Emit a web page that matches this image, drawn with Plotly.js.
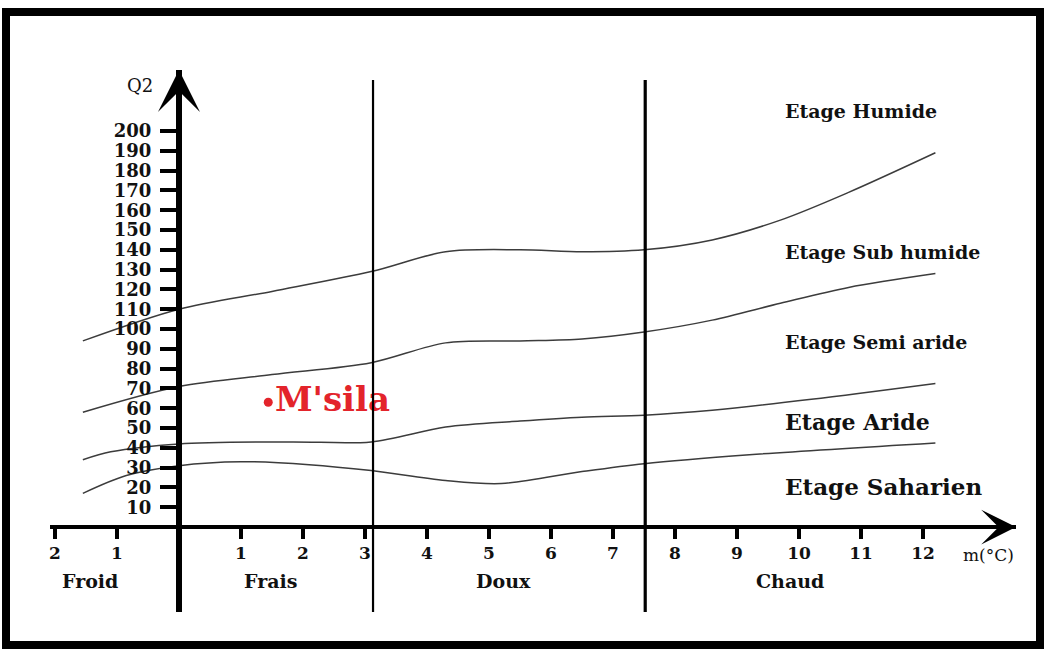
<!DOCTYPE html>
<html><head><meta charset="utf-8">
<script src="https://cdn.plot.ly/plotly-3.0.1.min.js"></script>
<style>html,body{margin:0;padding:0;background:#fff;overflow:hidden}</style>
</head><body>
<div id="chart" style="width:1046px;height:650px"></div>
<script>
// ---- data ----
const xTickVals = [-2, -1, 1, 2, 3, 4, 5, 6, 7, 8, 9, 10, 11, 12];
const xTickText = ['2', '1', '1', '2', '3', '4', '5', '6', '7', '8', '9', '10', '11', '12'];
const yTickVals = [10, 20, 30, 40, 50, 60, 70, 80, 90, 100, 110, 120, 130, 140, 150, 160, 170, 180, 190, 200];
const zoneBounds = [3.13, 7.52];
const zoneNames = ['Froid', 'Frais', 'Doux', 'Chaud'];
const etageNames = ['Etage Humide', 'Etage Sub humide', 'Etage Semi aride', 'Etage Aride', 'Etage Saharien'];

// boundary curves between étages (m in °C, Q2)
const humideM = [-1.55, 0, 1.5, 3.1, 4.3, 5.5, 6.5, 7.5, 8.6, 9.7, 10.8, 12.2];
const humideQ2 = [94, 110, 119, 129, 139, 140, 139, 140, 145, 155, 169, 189];
const subHumideM = [-1.55, 0, 1.5, 3.1, 4.3, 5.5, 6.5, 7.5, 8.6, 9.7, 10.8, 12.2];
const subHumideQ2 = [58, 71, 77, 83, 93, 94, 95, 98.5, 104.5, 113, 121, 128];
const semiAridM = [-1.55, -1.1, 0, 1.8, 3.1, 4.3, 5.5, 6.5, 7.5, 8.6, 10.2, 12.2];
const semiAridQ2 = [34, 38, 42, 43, 43, 50.5, 53.5, 55.5, 56.5, 59, 64.5, 72.5];
const aridM = [-1.55, -0.85, 0, 1, 2.1, 3.1, 4.3, 5.2, 6.5, 7.5, 9.2, 12.2];
const aridQ2 = [17, 26, 31, 33, 31.5, 28.5, 23.5, 22, 28, 32, 36.5, 42.5];

const stationName = ["M'sila"];
const stationM = [1.44];
const stationQ2 = [63];

// ---- layout helpers ----
const W = 1046, H = 650;
const M = {l: 50, r: 30, t: 70, b: 38};
const X0 = -2.08, X1 = 13.5, Y0 = -42.9, Y1 = 230.8;
const pw = W - M.l - M.r, ph = H - M.t - M.b;
const pxX = v => (v - M.l) / pw;
const pxY = v => (H - M.b - v) / ph;

const serif = 'DejaVu Serif, Liberation Serif, serif';
const curveLine = {color: '#3c3c3c', width: 1.5, shape: 'spline', smoothing: 0.9};

const curves = [[humideM, humideQ2], [subHumideM, subHumideQ2], [semiAridM, semiAridQ2], [aridM, aridQ2]];
const traces = curves.map(c => ({
  type: 'scatter', mode: 'lines', x: c[0], y: c[1], line: curveLine, hoverinfo: 'skip', showlegend: false
}));
traces.push({
  type: 'scatter', mode: 'markers+text', x: stationM, y: stationQ2, text: stationName,
  textposition: 'middle right',
  marker: {color: '#e3242b', size: 9},
  textfont: {family: serif, size: 34, color: '#e3242b', weight: 'bold'},
  showlegend: false, cliponaxis: false
});

const shapes = [
  {type: 'rect', xref: 'paper', yref: 'paper', x0: pxX(6), x1: pxX(1040), y0: pxY(645), y1: pxY(12),
   line: {color: '#000', width: 8}, fillcolor: 'rgba(0,0,0,0)'}
];
zoneBounds.forEach((b, i) => shapes.push({
  type: 'line', xref: 'x', yref: 'paper', x0: b, x1: b, y0: 0, y1: pxY(80),
  line: {color: '#000', width: i === 0 ? 2.2 : 3.2}
}));

const zoneX = [-1.44, 1.47, 5.23, 9.85];
const etageY = [210, 139, 93.5, 53, 20.5];
const etageSize = [19, 19, 19, 22, 23];
const annotations = [];
zoneNames.forEach((n, i) => annotations.push({
  x: zoneX[i], y: -27, xref: 'x', yref: 'y', text: n, showarrow: false,
  font: {family: serif, size: 19, color: '#111', weight: 'bold'}
}));
etageNames.forEach((n, i) => annotations.push({
  x: 9.75, y: etageY[i], xref: 'x', yref: 'y', text: n, showarrow: false, xanchor: 'left',
  font: {family: serif, size: etageSize[i], color: '#111', weight: 'bold'}
}));
annotations.push({x: pxX(125), y: pxY(73), xref: 'paper', yref: 'paper', text: 'Q2', showarrow: false,
  font: {family: serif, size: 18, color: '#111'}});
annotations.push({x: 13.05, y: -14, xref: 'x', yref: 'y', text: 'm(°C)', showarrow: false,
  font: {family: serif, size: 17, color: '#111'}});
// axis arrow heads
annotations.push({x: 0, y: Y1, xref: 'x', yref: 'y', text: '', showarrow: true, ax: 0, ay: 30,
  arrowhead: 3, arrowsize: 1.4, arrowwidth: 5, arrowcolor: '#000'});
annotations.push({x: X1, y: 0, xref: 'x', yref: 'y', text: '', showarrow: true, ax: -34, ay: 0,
  arrowhead: 3, arrowsize: 1.45, arrowwidth: 4, arrowcolor: '#000'});

const layout = {
  width: W, height: H, margin: M,
  paper_bgcolor: '#fff', plot_bgcolor: '#fff', showlegend: false,
  xaxis: {
    range: [X0, X1], anchor: 'free', position: (0 - Y0) / (Y1 - Y0),
    showgrid: false, zeroline: false, showline: true, linecolor: '#000', linewidth: 4,
    tickmode: 'array', tickvals: xTickVals, ticktext: xTickText,
    ticks: 'outside', ticklen: 10, tickwidth: 4, tickcolor: '#000', ticklabelstandoff: 0,
    tickfont: {family: serif, size: 17, color: '#111', weight: 'bold'}
  },
  yaxis: {
    range: [Y0, Y1], anchor: 'free', position: (0 - X0) / (X1 - X0),
    showgrid: false, zeroline: false, showline: true, linecolor: '#000', linewidth: 6,
    tickmode: 'array', tickvals: yTickVals,
    ticks: 'outside', ticklen: 16, tickwidth: 4, tickcolor: '#000', ticklabelstandoff: 5,
    tickfont: {family: serif, size: 18, color: '#111', weight: 'bold'}
  },
  shapes: shapes,
  annotations: annotations
};

Plotly.newPlot('chart', traces, layout, {displayModeBar: false, staticPlot: true});
</script>
</body></html>
